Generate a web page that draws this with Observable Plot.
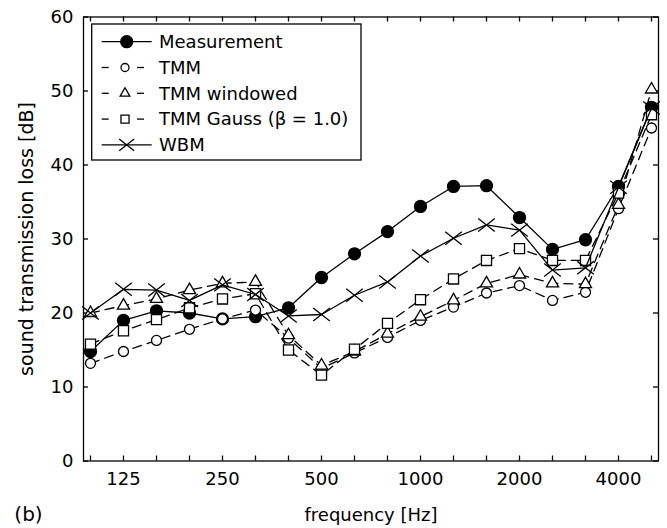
<!DOCTYPE html>
<html><head><meta charset="utf-8">
<script src="https://cdn.jsdelivr.net/npm/d3@7"></script>
<script src="https://cdn.jsdelivr.net/npm/@observablehq/plot@0.6"></script>
<style>body{margin:0;background:#fff;} #chart svg{display:block;}</style>
</head><body><div id="chart"></div>
<script>
// third-octave band centre frequencies [Hz]
const frequencies = [100,125,160,200,250,315,400,500,630,800,1000,1250,1600,2000,2500,3150,4000,5000];
const xTickLabels = [125,250,500,1000,2000,4000];
const yTickLabels = [0,10,20,30,40,50,60];

// sound transmission loss [dB]
const measurement = [14.8,19.0,20.3,20.0,19.2,19.5,20.7,24.8,28.0,31.0,34.4,37.1,37.2,32.9,28.6,29.9,37.1,47.8];
const tmm         = [13.2,14.8,16.3,17.8,19.2,20.4,16.6,12.5,14.6,16.7,19.0,20.8,22.7,23.7,21.7,22.8,34.1,45.0];
const tmmWindowed = [20.0,21.0,21.9,23.1,24.0,24.2,17.0,12.9,14.8,17.2,19.5,21.7,24.0,25.2,24.0,23.9,34.6,50.2];
const tmmGauss    = [15.8,17.6,19.1,20.7,21.9,22.6,15.0,11.6,15.1,18.6,21.8,24.6,27.1,28.7,27.1,27.1,36.2,46.8];
const wbm         = [20.0,23.2,23.1,21.7,23.8,22.5,19.6,19.8,22.4,24.2,27.7,30.1,31.9,31.2,25.8,26.1,37.0,47.7];

const seriesNames = ["Measurement","TMM","TMM windowed","TMM Gauss (\u03b2 = 1.0)","WBM"];

const rows = vals => frequencies.map((f, i) => ({f, v: vals[i]}));

// cross marker (slightly wider than tall, as in the figure)
const crossSymbol = {
  draw(ctx, size) {
    const r = Math.sqrt(size / Math.PI);
    const w = r * 1.0, h = r * 0.78;
    ctx.moveTo(-w, -h); ctx.lineTo(w, h);
    ctx.moveTo(-w, h); ctx.lineTo(w, -h);
  }
};

const W = 667, H = 528, mL = 83, mR = 9, mT = 16.5, mB = 67.5;
const plotW = W - mL - mR, plotH = H - mT - mB;
const FONT = "DejaVu Sans";
const LW = 1.3;
const dash = "9,6";

const series = [
  {name: seriesNames[0], data: rows(measurement), dash: null, symbol: "circle", r: 6, fill: "black"},
  {name: seriesNames[1], data: rows(tmm), dash, symbol: "circle", r: 5, fill: "white"},
  {name: seriesNames[2], data: rows(tmmWindowed), dash, symbol: "triangle", r: 4.5, fill: "white"},
  {name: seriesNames[3], data: rows(tmmGauss), dash, symbol: "square", r: 5.7, fill: "white"},
  {name: seriesNames[4], data: rows(wbm), dash: null, symbol: crossSymbol, r: 8.3, fill: "none"}
];

const marks = [];
for (const s of series) {
  marks.push(Plot.line(s.data, {x: "f", y: "v", stroke: "black", strokeWidth: LW, strokeDasharray: s.dash || undefined}));
  marks.push(Plot.dot(s.data, {x: "f", y: "v", symbol: s.symbol, r: s.r, fill: s.fill, stroke: "black", strokeWidth: LW}));
}

const chart = Plot.plot({
  width: W, height: H,
  marginLeft: mL, marginRight: mR, marginTop: mT, marginBottom: mB,
  style: {fontFamily: FONT, fontSize: "18px", color: "black", background: "white"},
  x: {type: "point", domain: frequencies, padding: 0},
  y: {domain: [0, 60]},
  marks: [
    Plot.frame({stroke: "black", strokeWidth: LW}),
    // inward tick marks on all four sides
    Plot.ruleX(frequencies, {x: d => d, insetTop: plotH - 5, stroke: "black", strokeWidth: LW}),
    Plot.ruleX(frequencies, {x: d => d, insetBottom: plotH - 5, stroke: "black", strokeWidth: LW}),
    Plot.ruleY(yTickLabels, {y: d => d, insetRight: plotW - 5, stroke: "black", strokeWidth: LW}),
    Plot.ruleY(yTickLabels, {y: d => d, insetLeft: plotW - 5, stroke: "black", strokeWidth: LW}),
    Plot.axisX(xTickLabels, {tickSize: 0, tickPadding: 11, fontSize: 18, label: null, tickFormat: d => String(d)}),
    Plot.axisY(yTickLabels, {tickSize: 0, tickPadding: 10, fontSize: 18, label: null, tickFormat: d => String(d)}),
    ...marks,
    Plot.text(["sound transmission loss [dB]"], {text: d => d, frameAnchor: "left", dx: -57, rotate: -90, textAnchor: "middle", lineAnchor: "middle", fontSize: 19}),
    Plot.text(["frequency [Hz]"], {text: d => d, frameAnchor: "bottom", dy: 54, textAnchor: "middle", lineAnchor: "middle", fontSize: 18}),
    Plot.text(["(b)"], {text: d => d, frameAnchor: "bottom-left", dx: -55, dy: 54, textAnchor: "middle", lineAnchor: "middle", fontSize: 20})
  ]
});

// legend box (inside the axes, top-left)
const svg = d3.select(chart);
const lg = svg.append("g").attr("font-family", FONT).attr("font-size", 18).attr("text-anchor", "start");
lg.append("rect").attr("x", 91.7).attr("y", 24).attr("width", 269.3).attr("height", 136)
  .attr("fill", "white").attr("stroke", "black").attr("stroke-width", LW);
const rowY0 = 41.7, rowDy = 25.8, lx0 = 101.7, lx1 = 151.7, mx = 125, tx = 159;
series.forEach((s, i) => {
  const y = rowY0 + i * rowDy;
  if (s.dash) {
    lg.append("line").attr("x1", lx0).attr("x2", lx0 + 7).attr("y1", y).attr("y2", y).attr("stroke", "black").attr("stroke-width", LW);
    lg.append("line").attr("x1", 137).attr("x2", 144).attr("y1", y).attr("y2", y).attr("stroke", "black").attr("stroke-width", LW);
  } else {
    lg.append("line").attr("x1", lx0).attr("x2", lx1).attr("y1", y).attr("y2", y).attr("stroke", "black").attr("stroke-width", LW);
  }
  const legendR = i === 0 ? 6 : i === 4 ? 7.5 : s.r * 0.8;
  const sym = typeof s.symbol === "string"
    ? {circle: d3.symbolCircle, triangle: d3.symbolTriangle, square: d3.symbolSquare}[s.symbol]
    : s.symbol;
  const cx = i === 0 || i === 4 ? 126.7 : mx;
  lg.append("path").attr("d", d3.symbol(sym, Math.PI * legendR * legendR)())
    .attr("transform", `translate(${cx},${y})`)
    .attr("fill", s.fill).attr("stroke", "black").attr("stroke-width", LW);
  lg.append("text").attr("x", tx).attr("y", y).attr("dy", "0.35em").attr("fill", "black").attr("text-anchor", "start").text(s.name);
});

document.getElementById("chart").appendChild(chart);
</script>
</body></html>
